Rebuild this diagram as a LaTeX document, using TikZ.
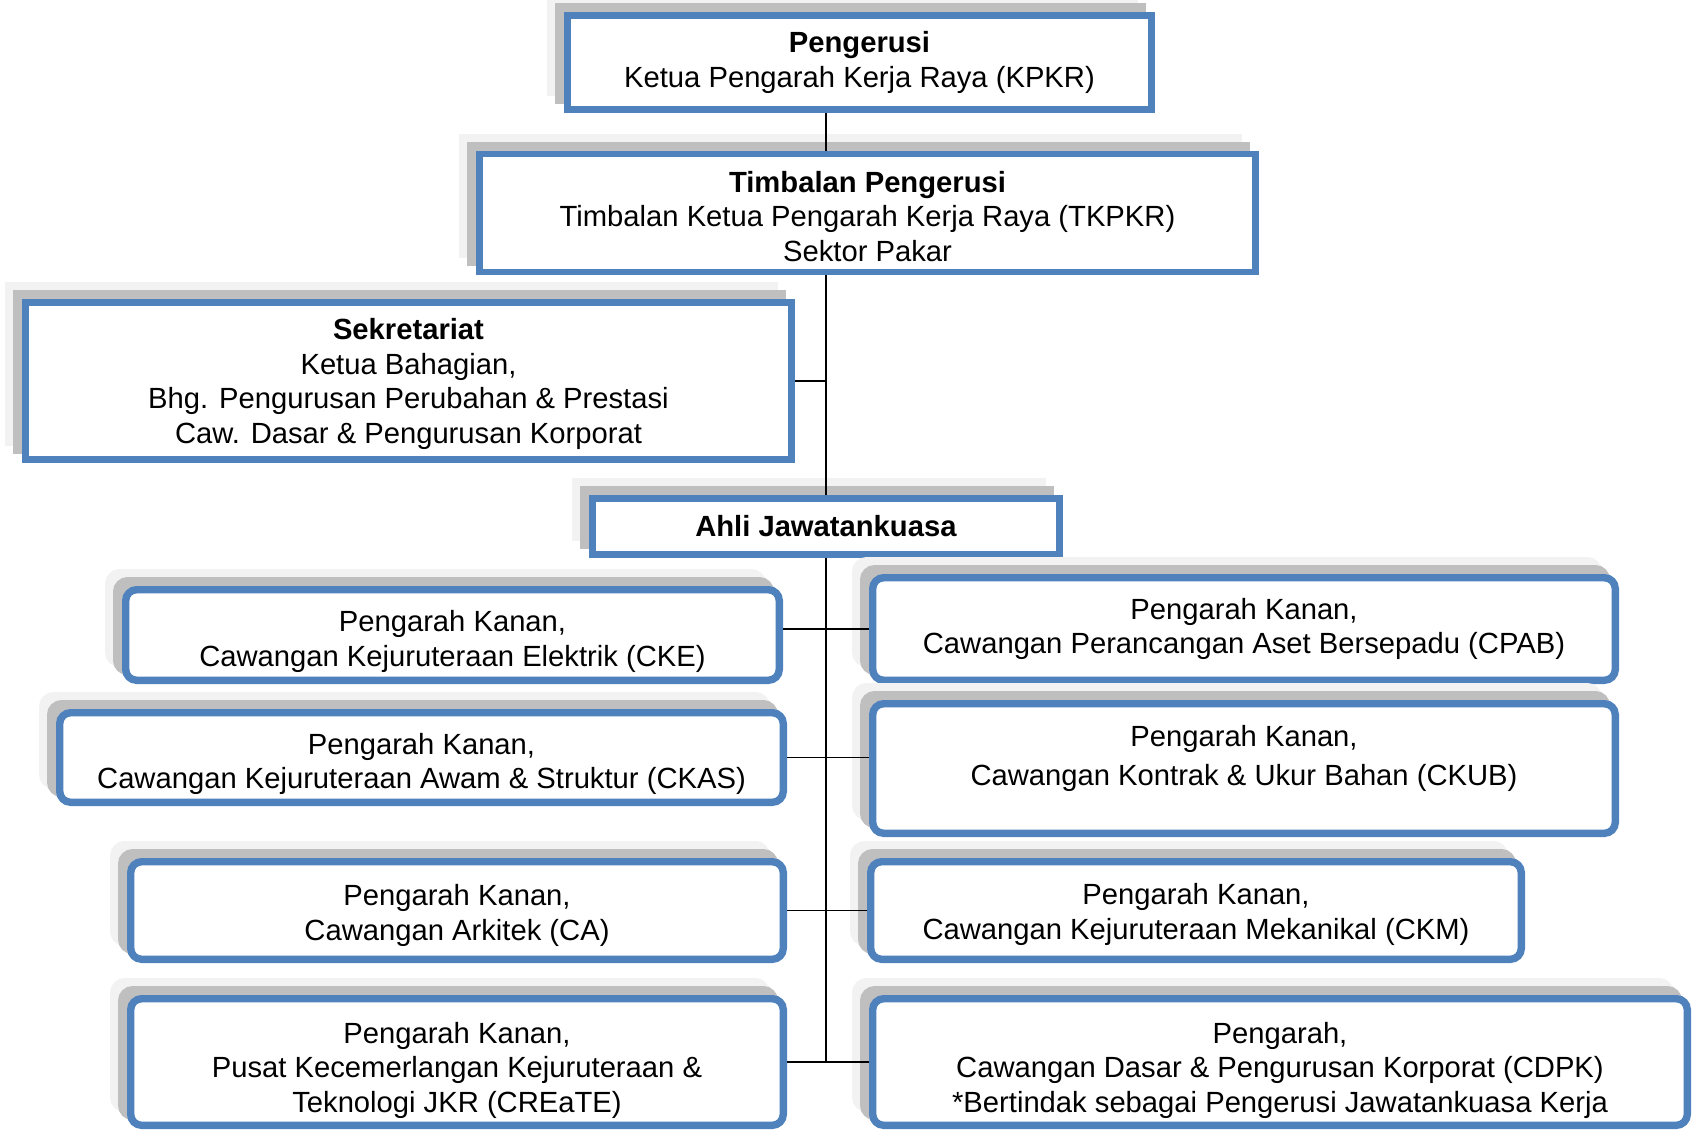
\documentclass[tikz,border=0pt]{standalone}
\usepackage{fontspec}
\setmainfont{Liberation Sans}
\usepackage{tikz}
\usetikzlibrary{shadows}
\definecolor{boxblue}{HTML}{4F81BD}
\definecolor{shadowdark}{HTML}{BFBFBF}
\definecolor{shadowlight}{HTML}{F2F2F2}
\newcommand{\padtop}[1]{\mbox{}\\[#1]}
\tikzstyle{link} = [black, line width=0.7pt]
\tikzstyle{post} = [rectangle, draw=boxblue, fill=white, line width=3.3pt, align=center, inner sep=2pt,
    font=\fontsize{14.6pt}{17.3pt}\selectfont,
    drop shadow={shadow xshift=-8.5pt, shadow yshift=8.5pt, opacity=1, fill=shadowlight, draw=shadowlight},
    drop shadow={shadow xshift=-4.5pt, shadow yshift=4.5pt, opacity=1, fill=shadowdark, draw=shadowdark}]
\tikzstyle{branch} = [post, rounded corners=5.5pt, line width=3.7pt]

\begin{document}
\begin{tikzpicture}[x=0.5pt, y=-0.5pt]
\useasboundingbox (0,0) rectangle (1692,1131);

\node (peng) [post, minimum width=292.2pt, minimum height=47.2pt] at (859.5,62.5)
    {\textbf{Pengerusi}\\Ketua Pengarah Kerja Raya (KPKR)};
\node (timb) [post, minimum width=388.2pt, minimum height=59pt] at (867.5,213)
    {\padtop{-3.3pt}\textbf{Timbalan Pengerusi}\\Timbalan Ketua Pengarah Kerja Raya (TKPKR)\\Sektor Pakar};
\node (sek) [post, minimum width=383.2pt, minimum height=78.7pt] at (408.5,381)
    {\padtop{-3.9pt}\textbf{Sekretariat}\\Ketua Bahagian,\\Bhg. Pengurusan Perubahan \& Prestasi\\Caw. Dasar \& Pengurusan Korporat};
\node (ahli) [post, minimum width=233.7pt, minimum height=28.2pt] at (826,526.5)
    {\textbf{Ahli Jawatankuasa}};

% ahli jawatankuasa, kiri
\node (cke) [branch, minimum width=326.8pt, minimum height=45.3pt] at (452.5,635)
    {\padtop{-0.1pt}Pengarah Kanan,\\Cawangan Kejuruteraan Elektrik (CKE)};
\node (ckas) [branch, minimum width=361.8pt, minimum height=44.8pt] at (421.5,757.5)
    {\padtop{-0.1pt}Pengarah Kanan,\\Cawangan Kejuruteraan Awam \& Struktur (CKAS)};
\node (ca) [branch, minimum width=326.3pt, minimum height=48.8pt] at (457,910.5)
    {\padtop{-1.7pt}Pengarah Kanan,\\Cawangan Arkitek (CA)};
\node (create) [branch, minimum width=326.3pt, minimum height=63.3pt] at (457,1062)
    {\padtop{1.5pt}Pengarah Kanan,\\Pusat Kecemerlangan Kejuruteraan \&\\Teknologi JKR (CREaTE)};

% ahli jawatankuasa, kanan
\node (cpab) [branch, minimum width=371.3pt, minimum height=51.3pt] at (1244,629)
    {Pengarah Kanan,\\Cawangan Perancangan Aset Bersepadu (CPAB)};
\node (ckub) [branch, minimum width=371.3pt, minimum height=64.8pt] at (1244,768.5)
    {Pengarah Kanan,\\[2pt]Cawangan Kontrak \& Ukur Bahan (CKUB)\\[-4pt]\mbox{}};
\node (ckm) [branch, minimum width=325.3pt, minimum height=48.8pt] at (1196,910.5)
    {\padtop{-2.8pt}Pengarah Kanan,\\Cawangan Kejuruteraan Mekanikal (CKM)};
\node (cdpk) [branch, minimum width=407.3pt, minimum height=63.3pt] at (1280,1062)
    {\padtop{1.5pt}Pengarah,\\Cawangan Dasar \& Pengurusan Korporat (CDPK)\\*Bertindak sebagai Pengerusi Jawatankuasa Kerja};

\coordinate (trunkend) at (ahli.south |- create.east);

\draw [link] (peng.south -| ahli.north) -- (timb.north -| ahli.north);
\draw [link] (timb.south -| ahli.north) -- (ahli.north);
\draw [link] (ahli.south) -- (trunkend);
\draw [link] (sek.east) -- (sek.east -| ahli.north);
\draw [link] (cpab.west -| cke.east) -- (cpab.west);
\draw [link] (ckas.east) -- (ckas.east -| ckub.west);
\draw [link] (ca.east) -- (ckm.west);
\draw [link] (create.east) -- (cdpk.west);
\end{tikzpicture}
\end{document}
